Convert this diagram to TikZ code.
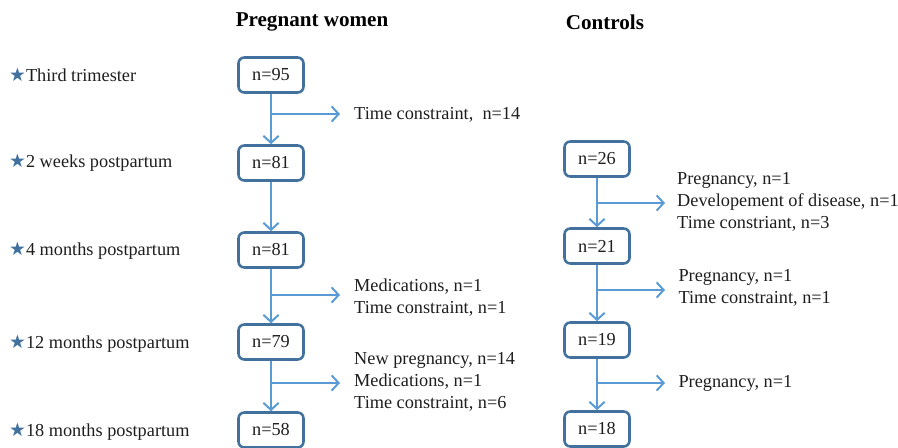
\documentclass[tikz,border=0pt]{standalone}
\usepackage{fontspec}
\setmainfont{Liberation Serif}
\newfontfamily\symfont{DejaVu Sans}
\usepackage{tikz}
\usetikzlibrary{arrows.meta}
\definecolor{boxblue}{RGB}{65,113,156}
\definecolor{flowblue}{RGB}{91,155,213}
\definecolor{inkgray}{RGB}{30,30,30}
\newcommand{\tstar}{{\symfont\color{boxblue}\fontsize{16}{16}\selectfont ★}}

\begin{document}
\begin{tikzpicture}[x=0.03cm, y=-0.03cm, font=\fontsize{15.6}{18.7}\selectfont, text=inkgray]
\useasboundingbox (0,0) rectangle (898,447);
\tikzstyle{count} = [draw=boxblue, line width=2.2pt, rounded corners=5pt, minimum width=1.95cm, minimum height=1.05cm, inner sep=0pt]
\tikzstyle{flow} = [flowblue, line width=1.7pt, -{Straight Barb[length=6pt, width=13pt]}]
\tikzstyle{drop} = [anchor=west, align=left, inner xsep=0.42cm, inner ysep=0pt]
\tikzstyle{stage} = [anchor=west, inner sep=0pt]
\tikzstyle{head} = [font=\fontsize{18}{20}\selectfont\bfseries, text=black]

% headings
\node[head] (hp) at (312,22) {Pregnant women};
\node[head] (hc) at (605,22) {Controls};

% time points
\node[stage] (t1) at (9,75) {\tstar Third trimester};
\node[stage] (t2) at (9,163) {\tstar 2 weeks postpartum};
\node[stage] (t3) at (9,251) {\tstar 4 months postpartum};
\node[stage] (t4) at (9,344) {\tstar 12 months postpartum};
\node[stage] (t5) at (9,432) {\tstar 18 months postpartum};

% pregnant women
\node[count] (pw1) at (271,75) {n=95};
\node[count] (pw2) at (271,163) {n=81};
\node[count] (pw3) at (271,250) {n=81};
\node[count] (pw4) at (271,342) {n=79};
\node[count] (pw5) at (271,430) {n=58};
\draw[flow] (pw1) -- (pw2);
\draw[flow] (pw2) -- (pw3);
\draw[flow] (pw3) -- (pw4);
\draw[flow] (pw4) -- (pw5);

\coordinate (pb1) at (271,114);
\coordinate (pb2) at (271,295);
\coordinate (pb3) at (271,383);
\node[drop] (pd1) at (340,115) {Time constraint,\ \ n=14};
\node[drop] (pd2) at (340,298) {Medications, n=1\\Time constraint, n=1};
\node[drop] (pd3) at (340,382) {New pregnancy, n=14\\Medications, n=1\\Time constraint, n=6};
\draw[flow] (pb1) -- (pb1 -| pd1.west);
\draw[flow] (pb2) -- (pb2 -| pd2.west);
\draw[flow] (pb3) -- (pb3 -| pd3.west);

% controls
\node[count] (ct2) at (597,159) {n=26};
\node[count] (ct3) at (597,246) {n=21};
\node[count] (ct4) at (597,340) {n=19};
\node[count] (ct5) at (597,429) {n=18};
\draw[flow] (ct2) -- (ct3);
\draw[flow] (ct3) -- (ct4);
\draw[flow] (ct4) -- (ct5);

\coordinate (cb1) at (597,203);
\coordinate (cb2) at (597,290);
\coordinate (cb3) at (597,383);
\node[drop, inner xsep=0.36cm] (cd1) at (665,202) {Pregnancy, n=1\\Developement of disease, n=1\\Time constriant, n=3};
\node[drop, inner xsep=0.4cm] (cd2) at (665,288) {Pregnancy, n=1\\Time constraint, n=1};
\node[drop, inner xsep=0.4cm] (cd3) at (665,383) {Pregnancy, n=1};
\draw[flow] (cb1) -- (cb1 -| cd1.west);
\draw[flow] (cb2) -- (cb2 -| cd2.west);
\draw[flow] (cb3) -- (cb3 -| cd3.west);
\end{tikzpicture}
\end{document}
